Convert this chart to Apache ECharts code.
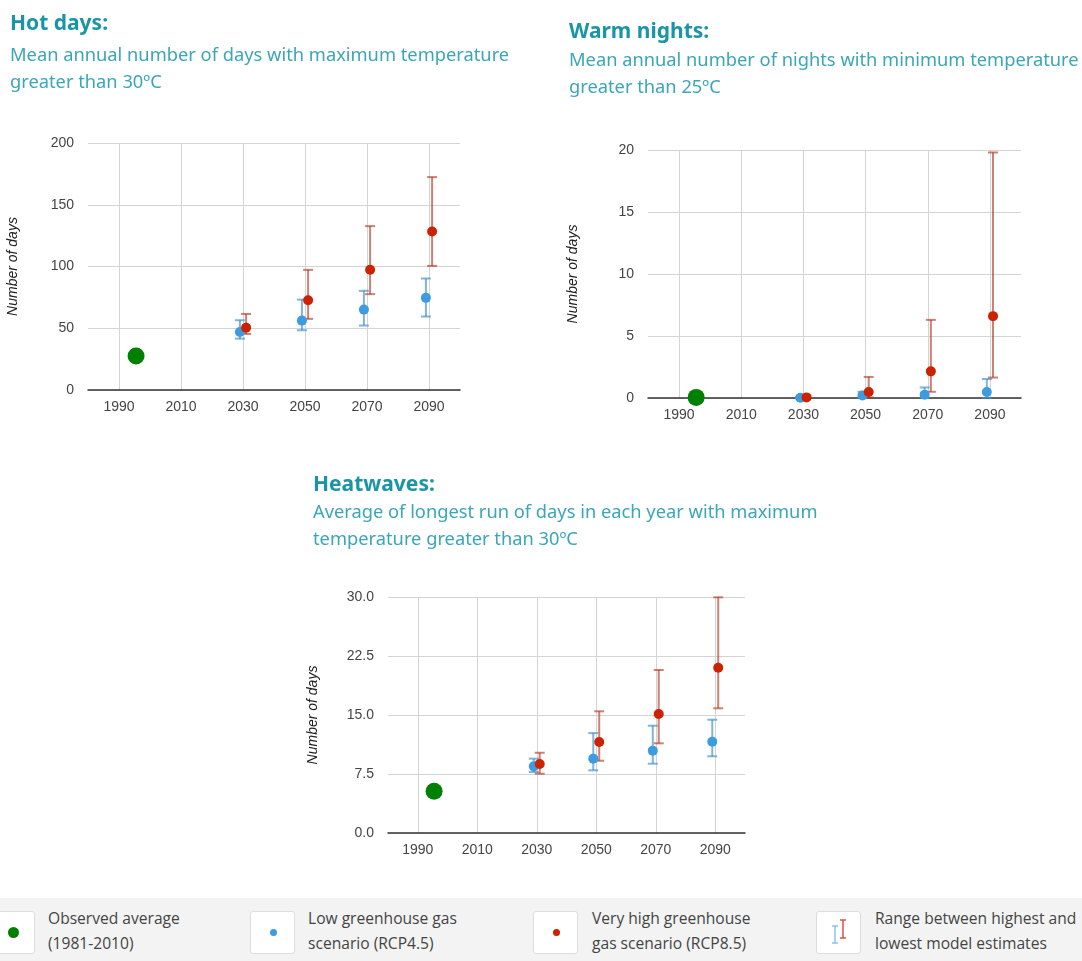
<!DOCTYPE html>
<html>
<head>
<meta charset="utf-8">
<script src="https://cdn.jsdelivr.net/npm/echarts@6/dist/echarts.min.js"></script>
<style>
  html, body { margin: 0; padding: 0; width: 1082px; height: 961px; overflow: hidden; background: #fff; font-family: "Noto Sans", sans-serif; }
  #chart { position: absolute; left: 0; top: 0; width: 1082px; height: 961px; }
  .ttl { position: absolute; color: #1a95a8; font-weight: bold; font-size: 21px; line-height: 28px; white-space: nowrap; z-index: 2; }
  .sub { position: absolute; color: #3aa6b7; font-size: 18.3px; line-height: 27px; white-space: nowrap; z-index: 2; }
  .band { position: absolute; left: 0; top: 898px; width: 1082px; height: 63px; background: #f3f3f3; z-index: 2; }
  .box { position: absolute; top: 13px; width: 43px; height: 41px; background: #fff; border: 1px solid #ddd; border-radius: 3px; }
  .lt { position: absolute; top: 8px; font-family: "Open Sans", sans-serif; font-size: 15.6px; line-height: 25px; color: #444; white-space: nowrap; }
  .dot { position: absolute; border-radius: 50%; }
</style>
</head>
<body>
<div id="chart"></div>

<div class="ttl" style="left:10px; top:8px;">Hot days:</div>
<div class="sub" style="left:10px; top:40px;">Mean annual number of days with maximum temperature<br>greater than 30ºC</div>

<div class="ttl" style="left:569px; top:16px;">Warm nights:</div>
<div class="sub" style="left:569px; top:45px;">Mean annual number of nights with minimum temperature<br>greater than 25ºC</div>

<div class="ttl" style="left:313px; top:469px;">Heatwaves:</div>
<div class="sub" style="left:313px; top:497px;">Average of longest run of days in each year with maximum<br>temperature greater than 30ºC</div>

<div class="band">
  <div class="box" style="left:-10px;"><div class="dot" style="left:17px; top:15px; width:11px; height:11px; background:#008000;"></div></div>
  <div class="lt" style="left:48px;">Observed average<br>(1981-2010)</div>
  <div class="box" style="left:250px;"><div class="dot" style="left:19px; top:17px; width:7px; height:7px; background:#3d9be0;"></div></div>
  <div class="lt" style="left:308px;">Low greenhouse gas<br>scenario (RCP4.5)</div>
  <div class="box" style="left:533px;"><div class="dot" style="left:19px; top:17px; width:7px; height:7px; background:#cc2200;"></div></div>
  <div class="lt" style="left:592px;">Very high greenhouse<br>gas scenario (RCP8.5)</div>
  <div class="box" style="left:816px;">
    <svg width="43" height="41" style="position:absolute;left:0;top:0">
      <path d="M15 14 H21 M18 14 V31 M15 31 H21" stroke="#8cc3ea" stroke-width="1.5" fill="none"/>
      <path d="M23 8 H29 M26 8 V26 M23 26 H29" stroke="#d9534a" stroke-width="1.5" fill="none"/>
    </svg>
  </div>
  <div class="lt" style="left:875px;">Range between highest and<br>lowest model estimates</div>
</div>

<script>
// projection years and the observed-period centre
const years = [2030, 2050, 2070, 2090];
const obsYear = 1995.5;
const tickYears = [1990, 2010, 2030, 2050, 2070, 2090];

// Hot days
const hotObs = 27.6;
const hotLowMean = [47, 56.2, 65.1, 74.6];
const hotLowMin = [41.6, 48.4, 52.2, 59.5];
const hotLowMax = [56.5, 73.2, 80.3, 90.3];
const hotHighMean = [50.5, 72.7, 97.3, 128.4];
const hotHighMin = [45.4, 57.6, 77.6, 100.5];
const hotHighMax = [61.6, 97.3, 132.7, 172.4];

// Warm nights
const warmObs = 0.05;
const warmLowMean = [0.02, 0.2, 0.27, 0.48];
const warmLowMin = [0, 0, 0, 0];
const warmLowMax = [0.1, 0.5, 0.85, 1.53];
const warmHighMean = [0.05, 0.48, 2.15, 6.6];
const warmHighMin = [0, 0.05, 0.5, 1.65];
const warmHighMax = [0.2, 1.7, 6.3, 19.8];

// Heatwaves
const heatObs = 5.3;
const heatLowMean = [8.47, 9.45, 10.47, 11.6];
const heatLowMin = [7.75, 7.97, 8.81, 9.75];
const heatLowMax = [9.45, 12.7, 13.64, 14.4];
const heatHighMean = [8.77, 11.57, 15.13, 21.0];
const heatHighMin = [7.54, 9.19, 11.4, 15.85];
const heatHighMax = [10.2, 15.47, 20.72, 29.96];

const GREEN = '#008000';
const BLUE = '#3d9be0';
const RED = '#cc2200';
const BLUE_BAR = 'rgba(60,140,200,0.65)';
const RED_BAR = 'rgba(175,50,30,0.62)';
const LOW_SHIFT = -1;
const HIGH_SHIFT = 1;
const AXIS_FONT = 'Liberation Sans, Arial, sans-serif';

const chart = echarts.init(document.getElementById('chart'));

const grids = [
  { left: 88, top: 143, width: 372, height: 247 },
  { left: 648, top: 150, width: 373, height: 248 },
  { left: 388, top: 597, width: 357, height: 236 },
];

function xAxisFor(i) {
  return {
    type: 'value', gridIndex: i, min: 1980, max: 2100,
    axisLine: { show: true, lineStyle: { color: '#333', width: 1.5 } },
    axisTick: { show: false, customValues: tickYears },
    axisLabel: { customValues: tickYears, color: '#444', fontSize: 14, margin: 10, fontFamily: AXIS_FONT,
      formatter: v => String(v) },
    splitLine: { show: true, lineStyle: { color: '#d4d4d4' } },
  };
}

function yAxisFor(i, max, interval, digits) {
  return {
    type: 'value', gridIndex: i, min: 0, max: max, interval: interval,
    name: 'Number of days', nameLocation: 'middle', nameGap: 68,
    nameTextStyle: { fontStyle: 'italic', fontSize: 14, color: '#222', fontFamily: AXIS_FONT },
    axisLine: { show: false }, axisTick: { show: false },
    axisLabel: { color: '#444', fontSize: 14, margin: 14, fontFamily: AXIS_FONT,
      formatter: v => v.toFixed(digits) },
    splitLine: { lineStyle: { color: '#d4d4d4' } },
  };
}

function errorBar(color) {
  return function (params, api) {
    const x = api.value(0);
    const lo = api.coord([x, api.value(1)]);
    const hi = api.coord([x, api.value(2)]);
    const st = { stroke: color, lineWidth: 2 };
    return {
      type: 'group',
      children: [
        { type: 'line', shape: { x1: lo[0], y1: lo[1], x2: hi[0], y2: hi[1] }, style: st },
        { type: 'line', shape: { x1: lo[0] - 5, y1: lo[1], x2: lo[0] + 5, y2: lo[1] }, style: st },
        { type: 'line', shape: { x1: hi[0] - 5, y1: hi[1], x2: hi[0] + 5, y2: hi[1] }, style: st },
      ],
    };
  };
}

function seriesFor(i, obs, lowMean, lowMin, lowMax, highMean, highMin, highMax) {
  const lowBars = years.map((y, k) => [y + LOW_SHIFT, lowMin[k], lowMax[k]]);
  const highBars = years.map((y, k) => [y + HIGH_SHIFT, highMin[k], highMax[k]]);
  return [
    { type: 'custom', xAxisIndex: i, yAxisIndex: i, renderItem: errorBar(BLUE_BAR),
      encode: { x: 0, y: [1, 2] }, data: lowBars, z: 2, silent: true },
    { type: 'custom', xAxisIndex: i, yAxisIndex: i, renderItem: errorBar(RED_BAR),
      encode: { x: 0, y: [1, 2] }, data: highBars, z: 2, silent: true },
    { type: 'scatter', xAxisIndex: i, yAxisIndex: i, symbolSize: 17, itemStyle: { color: GREEN, opacity: 1 },
      data: [[obsYear, obs]], z: 3 },
    { type: 'scatter', xAxisIndex: i, yAxisIndex: i, symbolSize: 10, itemStyle: { color: BLUE, opacity: 1 },
      data: years.map((y, k) => [y + LOW_SHIFT, lowMean[k]]), z: 3 },
    { type: 'scatter', xAxisIndex: i, yAxisIndex: i, symbolSize: 10, itemStyle: { color: RED, opacity: 1 },
      data: years.map((y, k) => [y + HIGH_SHIFT, highMean[k]]), z: 4 },
  ];
}

chart.setOption({
  animation: false,
  grid: grids,
  xAxis: [xAxisFor(0), xAxisFor(1), xAxisFor(2)],
  yAxis: [yAxisFor(0, 200, 50, 0), yAxisFor(1, 20, 5, 0), yAxisFor(2, 30, 7.5, 1)],
  series: [
    ...seriesFor(0, hotObs, hotLowMean, hotLowMin, hotLowMax, hotHighMean, hotHighMin, hotHighMax),
    ...seriesFor(1, warmObs, warmLowMean, warmLowMin, warmLowMax, warmHighMean, warmHighMin, warmHighMax),
    ...seriesFor(2, heatObs, heatLowMean, heatLowMin, heatLowMax, heatHighMean, heatHighMin, heatHighMax),
  ],
});
</script>
</body>
</html>
